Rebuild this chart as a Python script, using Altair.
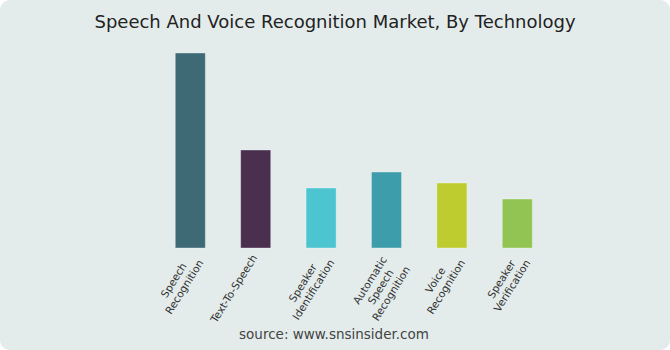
import altair as alt
import pandas as pd

categories = ["Speech\nRecognition", "Text-To-Speech", "Speaker\nIdentification",
              "Automatic\nSpeech\nRecognition", "Voice\nRecognition", "Speaker\nVerification"]
values = [195, 98, 60, 76, 65, 49]
colors = ["#3D6A75", "#4A2F4F", "#4DC5D1", "#3E9DAA", "#BFCC2F", "#91C453"]

title_text = "Speech And Voice Recognition Market, By Technology"
source_text = "source: www.snsinsider.com"

LABEL_SIZE = 10.5
# approximate DejaVu Sans advance widths (units per 2048 em) for label-length estimates
ADV = {"a": 1255, "b": 1300, "c": 1126, "d": 1300, "e": 1260, "f": 721, "g": 1300, "h": 1298,
       "i": 569, "k": 1186, "l": 569, "m": 1995, "n": 1298, "o": 1253, "p": 1300, "r": 842,
       "s": 1067, "t": 803, "u": 1298, "v": 1212, "x": 1212, "y": 1212, "-": 739,
       "A": 1401, "I": 604, "R": 1423, "S": 1300, "T": 1251, "V": 1401}


def text_width(s):
    return sum(ADV.get(ch, 1250) for ch in s) / 2048 * LABEL_SIZE


df = pd.DataFrame({"cat": categories, "value": values, "color": colors})
df["lines"] = [c.split("\n") for c in categories]
df["half"] = [max(text_width(l) for l in c.split("\n")) / 2 + 1 for c in categories]

PL, PT, PR, PB = 157.6, 53, 120, 102
W, H = 670 - PL - PR, 350 - PT - PB

bg = alt.Chart(pd.DataFrame({"a": [0]})).mark_rect(
    fill="#E3ECEB", cornerRadius=10
).encode(
    x=alt.value(-PL), x2=alt.value(670 - PL),
    y=alt.value(-PT), y2=alt.value(350 - PT),
)

xenc = alt.X("cat:N", sort=categories,
             scale=alt.Scale(paddingInner=0.54, paddingOuter=0.27),
             axis=None)

bars = alt.Chart(df).mark_bar(strokeWidth=1, strokeOpacity=0.35, stroke="#ffffff").encode(
    x=xenc,
    y=alt.Y("value:Q", scale=alt.Scale(domain=[0, 195]), axis=None),
    color=alt.Color("color:N", scale=None),
)

labels = alt.Chart(df).mark_text(
    font="DejaVu Sans", fontSize=LABEL_SIZE, color="#333333", angle=302,
    align="center", baseline="middle", lineHeight=12.5, theta=3.70, dx=2
).encode(
    x=xenc,
    y=alt.value(H + 7),
    radius=alt.Radius("half:Q", scale=None),
    text="lines",
)

title = alt.Chart(pd.DataFrame({"t": [title_text]})).mark_text(
    font="DejaVu Sans", fontSize=18, color="#222222", align="center", baseline="alphabetic"
).encode(text="t:N", x=alt.value(335 - PL), y=alt.value(28 - PT))

source = alt.Chart(pd.DataFrame({"t": [source_text]})).mark_text(
    font="DejaVu Sans", fontSize=13.5, color="#444444", align="center", baseline="alphabetic"
).encode(text="t:N", x=alt.value(334 - PL), y=alt.value(339 - PT))

chart = alt.layer(bg, bars, labels, title, source).properties(
    width=W, height=H,
    autosize=alt.AutoSizeParams(type="none"),
    padding={"left": PL, "top": PT, "right": PR, "bottom": PB},
    background="#ffffff",
).configure_view(stroke=None)

chart.save("out.html", embed_options={"renderer": "svg", "actions": False})
